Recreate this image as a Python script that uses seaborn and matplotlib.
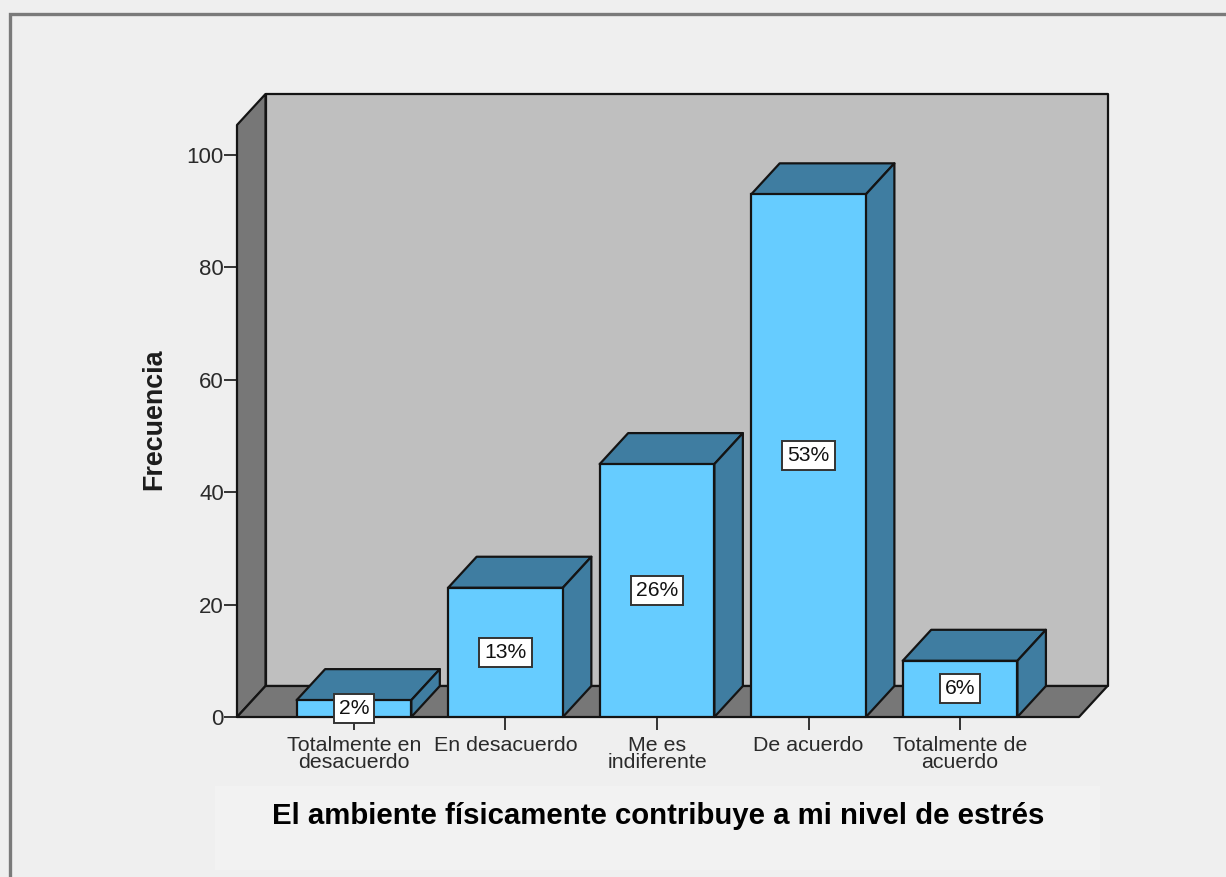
import matplotlib
matplotlib.use("Agg")
import matplotlib.pyplot as plt
from matplotlib.lines import Line2D
from matplotlib.patches import Polygon, Rectangle
import pandas as pd
import seaborn as sns

# Survey responses
categorias = ["Totalmente en\ndesacuerdo", "En desacuerdo", "Me es\nindiferente",
              "De acuerdo", "Totalmente de\nacuerdo"]
frecuencias = [3, 23, 45, 93, 10]
porcentajes = ["2%", "13%", "26%", "53%", "6%"]
marcas_y = [0, 20, 40, 60, 80, 100]

# Palette
FONDO = "#efefef"
PANEL = "#f2f2f2"
MARCO = "#7a7a7a"
PARED = "#bfbfbf"
SUELO = "#777777"
FRENTE = "#66ccff"
SOMBRA = "#3f7da1"
BORDE = "#141414"
TEXTO = "#2a2a2a"

W, H = 1226, 877
sns.set_theme(style="white")
plt.rcParams["font.family"] = ["Liberation Sans", "DejaVu Sans"]

fig = plt.figure(figsize=(W / 100, H / 100), dpi=100, facecolor=FONDO)
ax = fig.add_axes([237 / W, (H - 717) / H, 842 / W, 592 / H])
ax.patch.set_visible(False)

df = pd.DataFrame({"categoria": categorias, "frecuencia": frecuencias})
ANCHO = 0.757
LW = 1.6
sns.barplot(data=df, x="categoria", y="frecuencia", color=FRENTE, saturation=1,
            width=ANCHO, edgecolor=BORDE, linewidth=LW, ax=ax, zorder=3)

ax.set_xlim(-0.772, 4.785)
ax.set_ylim(0, 592 / 5.62)
x0, x1 = ax.get_xlim()
y0, y1 = ax.get_ylim()

# Oblique depth offset of the pseudo-3D projection, in data units
DX = 28.5 / 151.5
DY = 31 / 5.62


def cara(puntos, color, z):
    ax.add_patch(Polygon(puntos, closed=True, facecolor=color, edgecolor=BORDE,
                         linewidth=LW, joinstyle="round", clip_on=False, zorder=z))


# Room: back wall, left wall, floor
cara([(x0 + DX, y0 + DY), (x1 + DX, y0 + DY), (x1 + DX, y1 + DY), (x0 + DX, y1 + DY)], PARED, 1)
cara([(x0, y0), (x0 + DX, y0 + DY), (x0 + DX, y1 + DY), (x0, y1)], SUELO, 1.1)
cara([(x0, y0), (x1, y0), (x1 + DX, y0 + DY), (x0 + DX, y0 + DY)], SUELO, 1.1)

# Top and side faces of every bar, with its percentage label
for i, (valor, etiqueta) in enumerate(zip(frecuencias, porcentajes)):
    a, b = i - ANCHO / 2, i + ANCHO / 2
    cara([(a, valor), (b, valor), (b + DX, valor + DY), (a + DX, valor + DY)], SOMBRA, 2.5)
    cara([(b, 0), (b + DX, DY), (b + DX, valor + DY), (b, valor)], SOMBRA, 2.5)
    ax.text(i, valor / 2, etiqueta, ha="center", va="center", fontsize=15.2,
            color="#111111", zorder=5, linespacing=1,
            bbox=dict(boxstyle="square,pad=0.24", facecolor="white",
                      edgecolor="#333333", linewidth=1.4))

ax.set_yticks(marcas_y)
ax.tick_params(axis="y", left=True, length=9.5, width=1.4, color="#333333",
               labelsize=16, labelcolor=TEXTO, pad=0)
ax.tick_params(axis="x", bottom=True, length=9.5, width=1.4, color="#333333",
               labelsize=15.4, labelcolor=TEXTO, pad=4.5)
for etiqueta in ax.get_xticklabels():
    etiqueta.set_linespacing(0.84)
sns.despine(ax=ax, left=True, bottom=True)

ax.set_ylabel("Frecuencia", fontsize=19.4, fontweight="bold", color="#1c1c1c", va="center")
ax.yaxis.set_label_coords((154 - 237) / 842, (717 - 419) / 592)

# Caption sits on a slightly lighter panel below the plot
fig.add_artist(Rectangle((215 / W, (H - 870) / H), 885 / W, 84 / H,
                         transform=fig.transFigure, facecolor=PANEL, edgecolor="none", zorder=-1))
ax.set_xlabel("El ambiente físicamente contribuye a mi nivel de estrés",
              fontsize=21.2, fontweight="bold", color="black", va="center")
ax.xaxis.set_label_coords((658 - 237) / 842, (717 - 816) / 592)

# Outer frame only shows on the top and left edges
fig.add_artist(Line2D([9.5 / W, 9.5 / W, 1], [0, (H - 13.5) / H, (H - 13.5) / H],
                      transform=fig.transFigure, color=MARCO, linewidth=2.4,
                      solid_joinstyle="miter"))

fig.savefig("out.png", dpi=100, facecolor=FONDO)
